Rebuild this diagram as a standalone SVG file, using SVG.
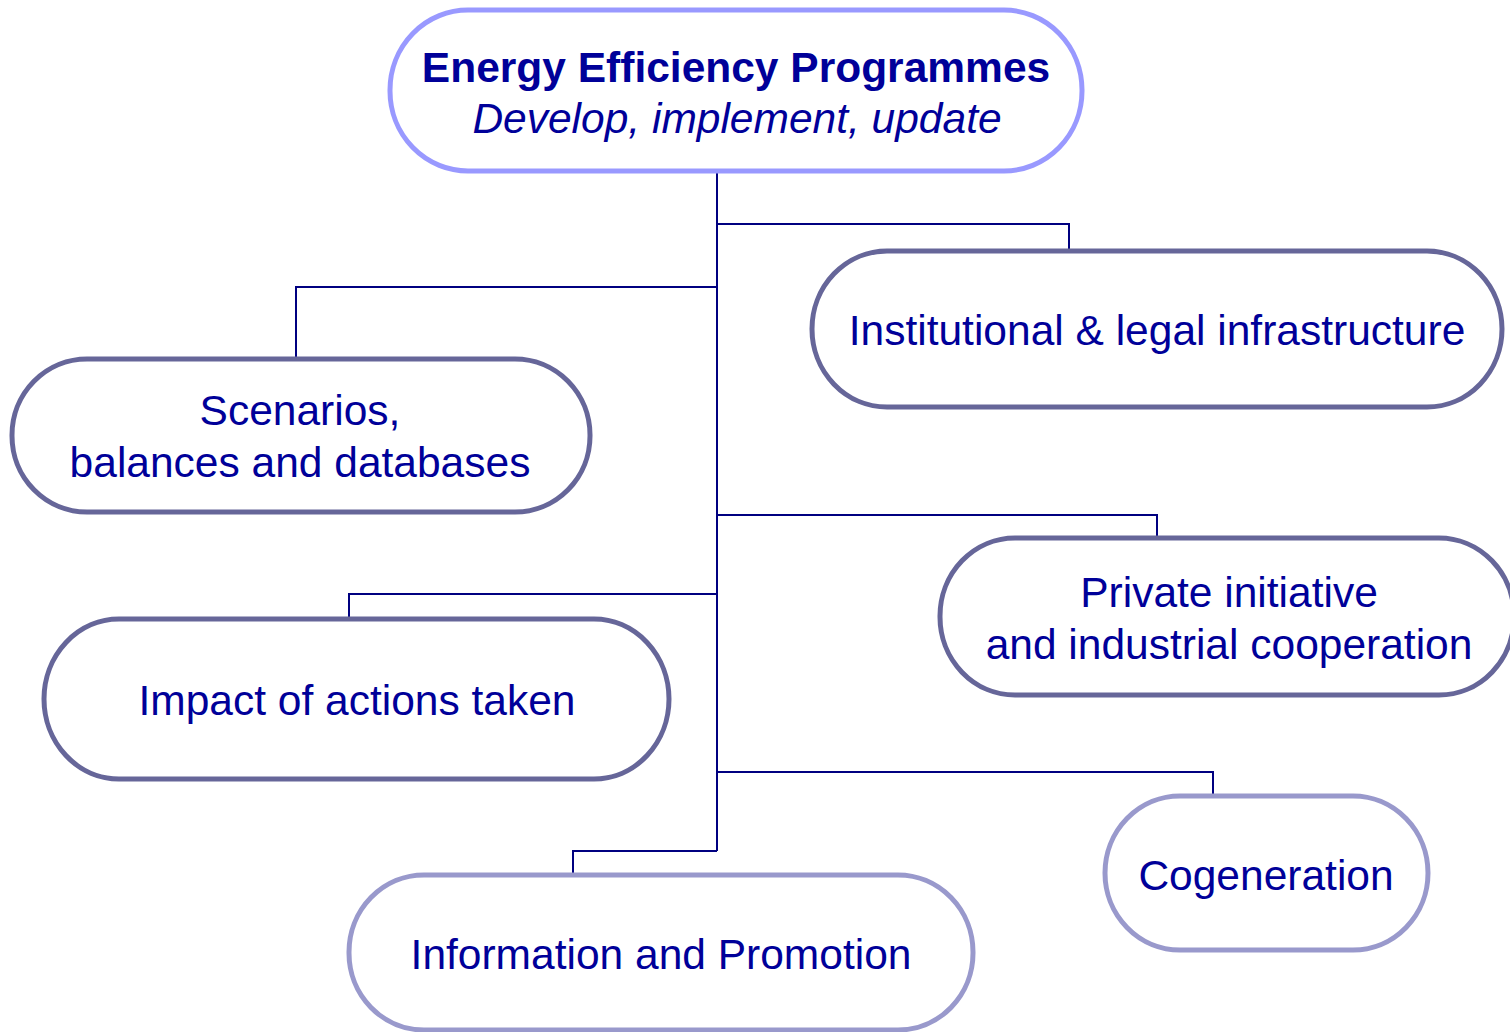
<svg xmlns="http://www.w3.org/2000/svg" width="1510" height="1032" viewBox="0 0 1510 1032">
<style>
.n{fill:#fff;stroke-width:5}
.a{stroke:#666699}
.b{stroke:#9999CC}
.c{stroke:#9999FF}
text{font-family:"Liberation Sans",Arial,sans-serif;font-size:42.5px;fill:#000099;text-anchor:middle}
.t{font-weight:bold}
.i{font-style:italic}
.l{fill:none;stroke:#000080;stroke-width:2}
</style>
<rect width="1510" height="1032" fill="#fff"/>
<g id="connectors">
<path class="l" d="M717,171V851"/>
<path class="l" d="M717,224H1069V251"/>
<path class="l" d="M717,287H296V359"/>
<path class="l" d="M717,515H1157V538"/>
<path class="l" d="M717,594H349V619"/>
<path class="l" d="M717,772H1213V796"/>
<path class="l" d="M717,851H573V875"/>
</g>
<g id="top">
<rect class="n c" x="390" y="10" width="692" height="161" rx="78" ry="80"/>
<text class="t" x="736" y="82">Energy Efficiency Programmes</text>
<text class="i" x="737" y="133">Develop, implement, update</text>
</g>
<g id="institutional">
<rect class="n a" x="812" y="251" width="690" height="156" rx="75" ry="78"/>
<text x="1157" y="345">Institutional &amp; legal infrastructure</text>
</g>
<g id="scenarios">
<rect class="n a" x="12" y="359" width="578" height="153" rx="75" ry="76"/>
<text x="300" y="425">Scenarios,</text>
<text x="300" y="477">balances and databases</text>
</g>
<g id="private">
<rect class="n a" x="940" y="538" width="574" height="157" rx="75" ry="78"/>
<text x="1229" y="607">Private initiative</text>
<text x="1229" y="659">and industrial cooperation</text>
</g>
<g id="impact">
<rect class="n a" x="44" y="619" width="625" height="160" rx="75" ry="80"/>
<text x="357" y="715">Impact of actions taken</text>
</g>
<g id="cogeneration">
<rect class="n b" x="1105" y="796" width="323" height="154" rx="75" ry="77"/>
<text x="1266" y="890">Cogeneration</text>
</g>
<g id="information">
<rect class="n b" x="349" y="875" width="624" height="155" rx="75" ry="77"/>
<text x="661" y="969">Information and Promotion</text>
</g>
</svg>
